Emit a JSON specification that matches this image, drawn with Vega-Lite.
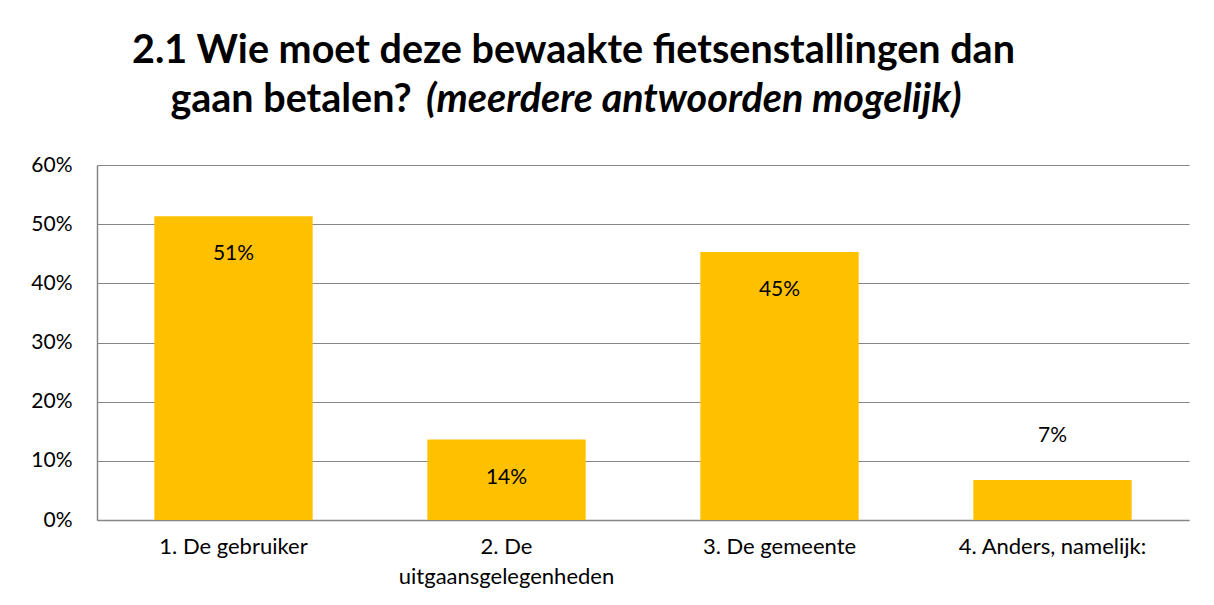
{
  "$schema": "https://vega.github.io/schema/vega-lite/v6.json",
  "width": 1092,
  "height": 355,
  "autosize": {"type": "none"},
  "padding": {"left": 97, "top": 165, "right": 25, "bottom": 85},
  "background": "white",
  "config": {"view": {"stroke": null}, "font": "Lato"},
  "title": {
    "text": ["2.1 Wie moet deze bewaakte fietsenstallingen dan", "\u200b\u00a0\u00a0\u00a0\u00a0gaan betalen?"],
    "subtitle": "\u200b\u00a0\u00a0\u00a0\u00a0\u00a0\u00a0\u00a0\u00a0\u00a0\u00a0\u00a0\u00a0\u00a0\u00a0\u00a0\u00a0\u00a0\u00a0\u00a0\u00a0\u00a0\u00a0\u00a0\u00a0\u00a0\u00a0\u00a0\u00a0\u00a0\u00a0\u00a0\u00a0\u00a0\u00a0(meerdere antwoorden mogelijk)",
    "anchor": "start",
    "frame": "group",
    "align": "left",
    "dx": 35,
    "font": "Lato",
    "fontSize": 39.5,
    "fontWeight": "bold",
    "color": "#000000",
    "lineHeight": 49,
    "subtitleFont": "Lato",
    "subtitleFontSize": 39.5,
    "subtitleFontWeight": "bold",
    "subtitleFontStyle": "italic",
    "subtitleColor": "#000000",
    "subtitlePadding": -39.5,
    "offset": 34
  },
  "data": {
    "values": [
      {"categorie": "1. De gebruiker", "aandeel": 0.5135},
      {"categorie": "2. De uitgaansgelegenheden", "aandeel": 0.136},
      {"categorie": "3. De gemeente", "aandeel": 0.453},
      {"categorie": "4. Anders, namelijk:", "aandeel": 0.0676}
    ]
  },
  "encoding": {
    "x": {
      "field": "categorie",
      "type": "nominal",
      "sort": null,
      "scale": {"paddingInner": 0.42, "paddingOuter": 0.21},
      "axis": {
        "title": null,
        "labelAngle": 0,
        "labelFontSize": 22,
        "labelColor": "#000000",
        "labelPadding": 16,
        "labelLineHeight": 30,
        "labelLimit": 400,
        "labelExpr": "datum.label == '2. De uitgaansgelegenheden' ? ['2. De', 'uitgaansgelegenheden'] : datum.label",
        "ticks": false,
        "domainColor": "#868686",
        "domainWidth": 1.5,
        "grid": false
      }
    },
    "y": {
      "field": "aandeel",
      "type": "quantitative",
      "scale": {"domain": [0, 0.6], "nice": false},
      "axis": {
        "title": null,
        "values": [0, 0.1, 0.2, 0.3, 0.4, 0.5, 0.6],
        "format": ".0%",
        "labelFontSize": 21,
        "labelColor": "#000000",
        "labelPadding": 25,
        "ticks": false,
        "domainColor": "#868686",
        "domainWidth": 1.5,
        "grid": true,
        "gridColor": "#868686",
        "gridWidth": 1.2
      }
    }
  },
  "layer": [
    {"mark": {"type": "bar", "color": "#FFC000"}},
    {
      "transform": [{"filter": "datum.aandeel >= 0.1"}],
      "mark": {"type": "text", "baseline": "middle", "dy": 38, "fontSize": 21, "color": "#000000"},
      "encoding": {"text": {"field": "aandeel", "type": "quantitative", "format": ".0%"}}
    },
    {
      "transform": [{"filter": "datum.aandeel < 0.1"}],
      "mark": {"type": "text", "baseline": "middle", "dy": -44, "fontSize": 21, "color": "#000000"},
      "encoding": {"text": {"field": "aandeel", "type": "quantitative", "format": ".0%"}}
    }
  ]
}
